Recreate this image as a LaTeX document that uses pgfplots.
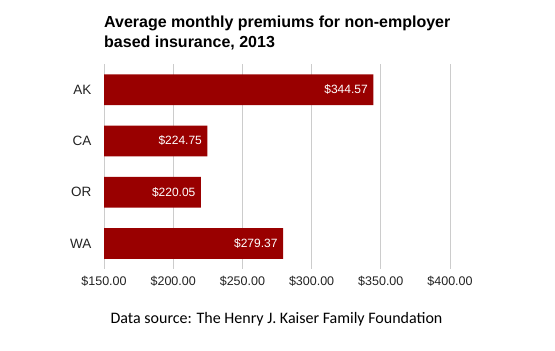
\documentclass[border=0pt]{standalone}
\usepackage{pgfplots}
\pgfplotsset{compat=1.18}
\usepackage{fontspec}
\setmainfont{Liberation Sans}
\newfontfamily\carlito{Carlito}
\definecolor{barred}{HTML}{990000}
\definecolor{gridgray}{HTML}{CCCCCC}
\definecolor{labgray}{HTML}{222222}
\begin{document}
\begin{tikzpicture}
\useasboundingbox (0,0) rectangle (555pt,-351pt);
\begin{axis}[
  at={(104pt,-269pt)}, anchor=south west,
  scale only axis, width=346pt, height=205pt,
  xbar, bar width=0.6,
  xmin=150, xmax=400,
  ymin=-0.5, ymax=3.5, y dir=reverse,
  xtick={150,200,250,300,350,400},
  ytick={0,1,2,3}, yticklabels={AK,CA,OR,WA},
  xmajorgrids, major grid style={gridgray, line width=0.8pt},
  major tick length=0pt,
  axis line style={draw=none},
  /pgf/number format/assume math mode=true,
  xticklabel={\$\pgfmathprintnumber[fixed,fixed zerofill,precision=2,1000 sep={}]{\tick}},
  tick label style={font=\fontsize{12.5}{14}\selectfont, text=labgray},
  yticklabel style={font=\fontsize{13.5}{15}\selectfont, xshift=-9pt},
  xticklabel style={yshift=-4pt},
  nodes near coords={\$\pgfmathprintnumber[fixed,fixed zerofill,precision=2]{\pgfplotspointmeta}},
  nodes near coords style={anchor=east, xshift=-2pt, text=white, font=\fontsize{12}{14}\selectfont},
  point meta=x,
]
\addplot[fill=barred, draw=none] coordinates {(344.57,0) (224.75,1) (220.05,2) (279.37,3)};
\end{axis}
\node[anchor=base west, inner sep=0pt, font=\bfseries\fontsize{16}{19}\selectfont] at (104pt,-27pt) {Average monthly premiums for non-employer};
\node[anchor=base west, inner sep=0pt, font=\bfseries\fontsize{16}{19}\selectfont] at (104pt,-47pt) {based insurance, 2013};
\node[anchor=base, inner sep=0pt, font=\carlito\fontsize{16}{19}\selectfont] at (276.5pt,-323pt) {Data source: The Henry J. Kaiser Family Foundation};
\end{tikzpicture}
\end{document}
